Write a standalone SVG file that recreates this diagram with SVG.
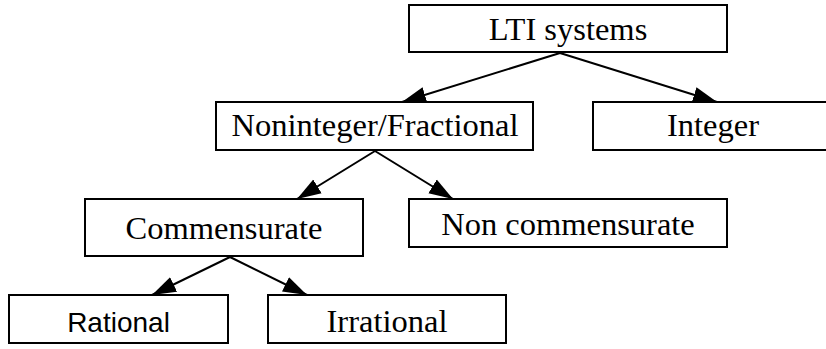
<svg xmlns="http://www.w3.org/2000/svg" width="826" height="349" viewBox="0 0 826 349">
  <defs>
    <style>
      .box { fill: #ffffff; stroke: #000000; stroke-width: 2; }
      .lbl { font-family: "Liberation Serif", "Times New Roman", serif; font-size: 32.5px; fill: #000000; text-anchor: middle; }
      .sans { font-family: "Liberation Sans", Arial, sans-serif; font-size: 28px; }
      .edge { stroke: #000000; stroke-width: 2; fill: none; marker-end: url(#arrow); }
    </style>
    <marker id="arrow" markerUnits="userSpaceOnUse" markerWidth="26" markerHeight="18" refX="24" refY="9" orient="auto">
      <path d="M0,1 L24,9 L0,17 z" fill="#000000"/>
    </marker>
  </defs>

  <rect width="826" height="349" fill="#ffffff"/>

  <!-- tree edges -->
  <g id="connectors">
    <line class="edge" x1="560" y1="53" x2="402" y2="102"/>
    <line class="edge" x1="560" y1="53" x2="717" y2="102"/>
    <line class="edge" x1="375" y1="151" x2="297" y2="199"/>
    <line class="edge" x1="375" y1="151" x2="453" y2="199"/>
    <line class="edge" x1="230" y1="257" x2="152" y2="295"/>
    <line class="edge" x1="230" y1="257" x2="307" y2="295"/>
  </g>

  <g id="lti">
    <rect class="box" x="409" y="5" width="318" height="47"/>
    <text class="lbl" x="568" y="40">LTI systems</text>
  </g>

  <g id="noninteger">
    <rect class="box" x="216" y="102" width="317" height="48"/>
    <text class="lbl" x="375" y="136">Noninteger/Fractional</text>
  </g>

  <g id="integer">
    <rect class="box" x="593" y="102" width="240" height="48"/>
    <text class="lbl" x="713" y="136">Integer</text>
  </g>

  <g id="commensurate">
    <rect class="box" x="85" y="199" width="278" height="57"/>
    <text class="lbl" x="224" y="239">Commensurate</text>
  </g>

  <g id="noncommensurate">
    <rect class="box" x="409" y="199" width="318" height="48"/>
    <text class="lbl" x="568" y="235">Non commensurate</text>
  </g>

  <g id="rational">
    <rect class="box" x="9" y="295" width="219" height="48"/>
    <text class="lbl sans" x="118.5" y="332">Rational</text>
  </g>

  <g id="irrational">
    <rect class="box" x="268" y="295" width="238" height="48"/>
    <text class="lbl" x="387" y="332">Irrational</text>
  </g>
</svg>
